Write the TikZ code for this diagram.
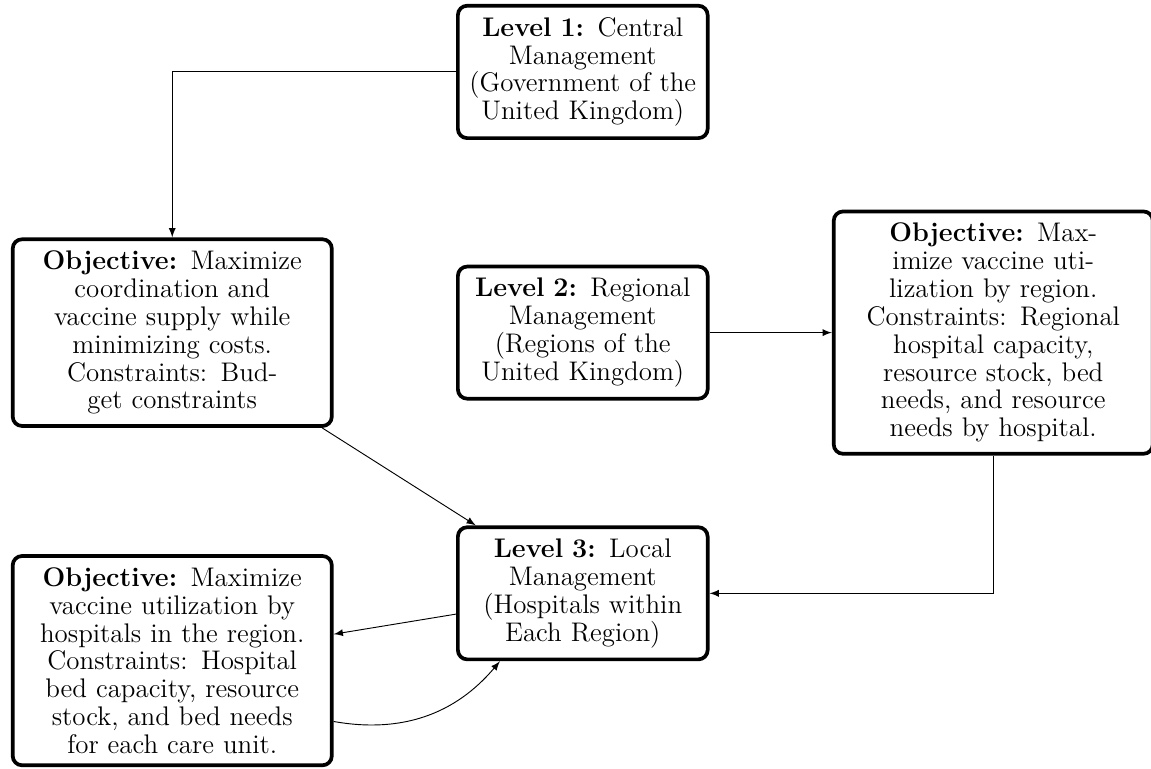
\documentclass[tikz,border=0pt]{standalone}
\usepackage{amssymb,amsmath}
\usepackage{tikz}

\begin{document}
\begin{tikzpicture}[auto, node distance=3.95cm,
		every node/.style={font=\fontsize{11.6}{12}\selectfont},
		level node/.style={rectangle,draw,ultra thick,rounded corners,inner ysep=5pt,text width=3.55cm,align=center},
		goal node/.style={rectangle,draw,ultra thick,rounded corners,inner ysep=5pt,text width=4.6cm,align=center}]
		
		\useasboundingbox (0,0) rectangle (17.44,-11.64);
		
		\node[level node] (L1) at (8.83,-1.09) {\textbf{Level 1:} Central\\ Management\\ (Government of the\\ United Kingdom)};
		\node[level node] (L2) [below of=L1] {\textbf{Level 2:} Regional\\ Management\\ (Regions of the\\ United Kingdom)};
		\node[level node] (L3) [below of=L2] {\textbf{Level 3:} Local\\ Management\\ (Hospitals within\\ Each Region)};
		\node[goal node] (O1) [left of=L2, node distance=6.22cm] {\textbf{Objective:} Maximize\\ coordination and\\ vaccine supply while\\ minimizing costs.\\ Constraints: Bud-\\get constraints};
		\node[goal node] (O2) [right of=L2, node distance=6.22cm] {\textbf{Objective:} Max-\\imize vaccine uti-\\lization by region.\\ Constraints: Regional\\ hospital capacity,\\ resource stock, bed\\ needs, and resource\\ needs by hospital.};
		\node[goal node] (O3) [below of=O1, node distance=4.97cm] {\textbf{Objective:} Maximize\\ vaccine utilization by\\ hospitals in the region.\\ Constraints: Hospital\\ bed capacity, resource\\ stock, and bed needs\\ for each care unit.};
		
		\draw[-latex] (L1.west) -| (O1.north);
		\draw[-latex] (O2.south) |- (L3.east);
		\path
		(O1) edge [-latex] (L3)
		(L2) edge [-latex] (O2)
		(L3) edge [-latex] (O3)
		(O3) edge [-latex, bend right] (L3);
\end{tikzpicture}
\end{document}
